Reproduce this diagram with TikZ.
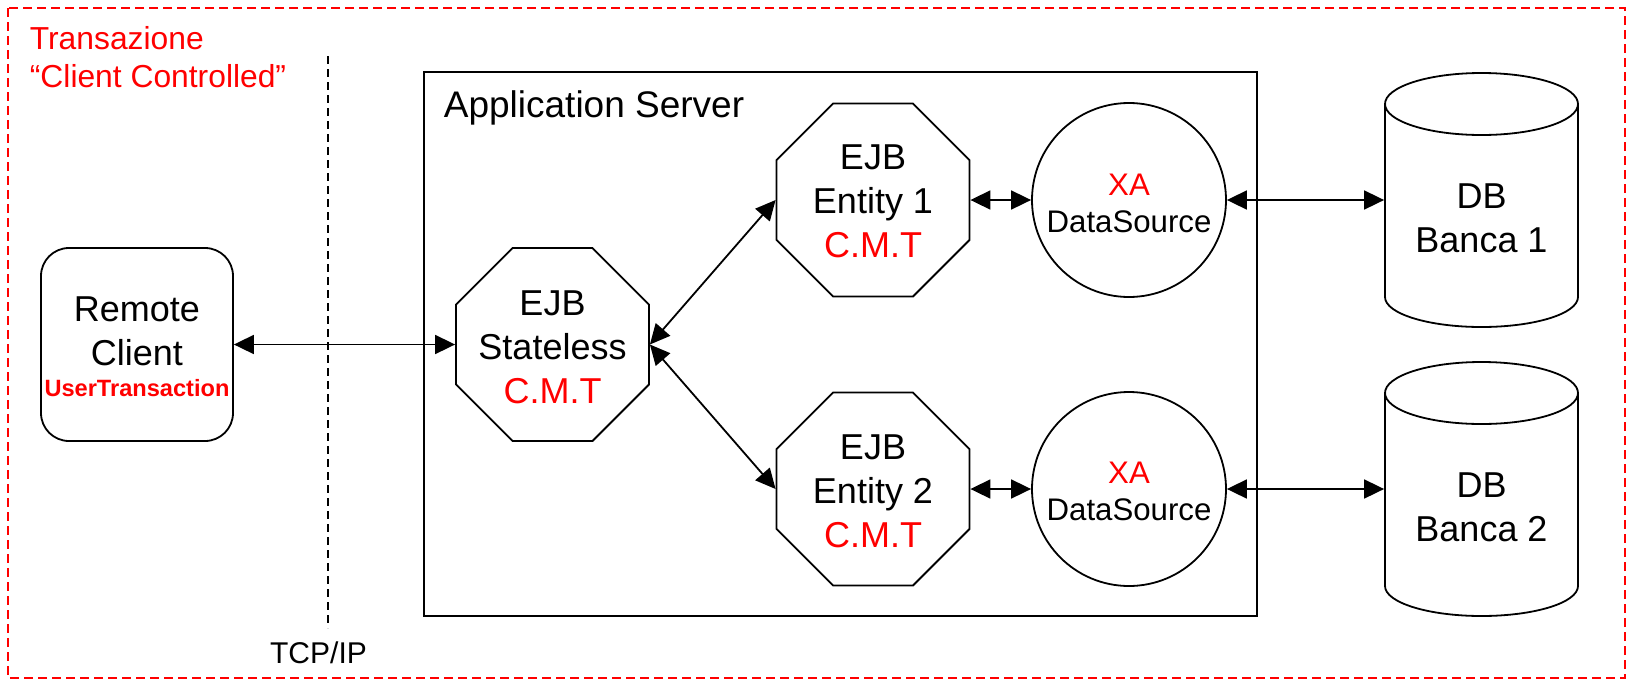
\documentclass[tikz,border=0pt]{standalone}
\usepackage{fontspec}
\setmainfont{Liberation Sans}
\usetikzlibrary{arrows.meta,shapes.geometric}
\definecolor{txred}{RGB}{255,0,0}
\begin{document}
\begin{tikzpicture}[x=0.5pt,y=0.5pt,
  line width=0.9pt,
  >={Triangle[length=10pt,width=9.5pt]},
  bean/.style={regular polygon, regular polygon sides=8, draw, minimum size=104.45pt, inner sep=0pt},
  dsrc/.style={circle, draw, minimum size=97pt, inner sep=0pt},
  bigtxt/.style={font=\fontsize{18}{22}\selectfont, align=center, inner sep=0pt},
  smalltxt/.style={font=\fontsize{15.6}{18.5}\selectfont, align=center, inner sep=0pt},
  dbbody/.style={rectangle, minimum width=96.5pt, minimum height=127pt, inner sep=0pt},
  link/.style={<->}]
\useasboundingbox (0,0) rectangle (1629,-681);

% transaction frame
\draw[txred, dash pattern=on 4.5pt off 2.5pt, line width=1pt] (8,-8) rectangle (1625,-678);
\node[anchor=north west, inner sep=0pt, align=left, text=txred,
      font=\fontsize{15.9}{19}\selectfont] (txlabel) at (29,-26)
      {Transazione\\“Client Controlled”};

% network boundary
\coordinate (tcpTop) at (328,-56);
\coordinate (tcpBot) at (328,-628);
\draw[dash pattern=on 4pt off 2.5pt] (tcpTop) -- (tcpBot);
\node[anchor=base, inner sep=0pt, font=\fontsize{15}{18}\selectfont] (tcp) at (318.5,-663) {TCP/IP};

% application server
\node[draw, rectangle, minimum width=416.5pt, minimum height=272pt, inner sep=0pt] (as) at (840.5,-344) {};
\node[anchor=base west, inner sep=0pt, font=\fontsize{18.5}{22}\selectfont] (aslabel) at (443,-117) {Application Server};

% remote client
\node[draw, rectangle, rounded corners=14pt, minimum width=96pt, minimum height=96.5pt, inner sep=0pt] (rc) at (137,-344.5) {};
\node[bigtxt] (rctext) at (137,-331) {Remote\\Client};
\node[anchor=base, inner sep=0pt, text=txred, font=\fontsize{11.8}{14}\selectfont\bfseries] (rcut) at (137,-396.7) {UserTransaction};

% EJBs
\node[bean] (sl) at (552.5,-344.5) {};
\node[bigtxt] (sltext) at (552.5,-347) {EJB\\Stateless\\\textcolor{txred}{C.M.T}};
\node[bean] (e1) at (873,-200) {};
\node[bigtxt] (e1text) at (873,-201) {EJB\\Entity 1\\\textcolor{txred}{C.M.T}};
\node[bean] (e2) at (873,-489) {};
\node[bigtxt] (e2text) at (873,-491) {EJB\\Entity 2\\\textcolor{txred}{C.M.T}};

% XA data sources
\node[dsrc] (xa1) at (1129,-200) {};
\node[smalltxt] (xa1text) at (1129,-203.5) {\textcolor{txred}{XA}\\DataSource};
\node[dsrc] (xa2) at (1129,-489) {};
\node[smalltxt] (xa2text) at (1129,-491) {\textcolor{txred}{XA}\\DataSource};

% databases
\node[dbbody] (db1) at (1481.5,-200) {};
\draw (1385,-104) -- (1385,-297) arc[start angle=180, end angle=360, x radius=48.25pt, y radius=15pt] -- (1578,-104);
\draw (1481.5,-104) ellipse[x radius=48.25pt, y radius=15.5pt];
\node[bigtxt] (db1text) at (1481.5,-218.5) {DB\\Banca 1};

\node[dbbody] (db2) at (1481.5,-489) {};
\draw (1385,-393) -- (1385,-586) arc[start angle=180, end angle=360, x radius=48.25pt, y radius=15pt] -- (1578,-393);
\draw (1481.5,-393) ellipse[x radius=48.25pt, y radius=15.5pt];
\node[bigtxt] (db2text) at (1481.5,-507) {DB\\Banca 2};

% connections
\draw[link] (rc.east) -- (sl.west);
\draw[link] (sl.east) -- (e1.west);
\draw[link] (sl.east) -- (e2.west);
\draw[link] (e1.east) -- (xa1.west);
\draw[link] (e2.east) -- (xa2.west);
\draw[link] (xa1.east) -- (db1.west);
\draw[link] (xa2.east) -- (db2.west);
\end{tikzpicture}
\end{document}
